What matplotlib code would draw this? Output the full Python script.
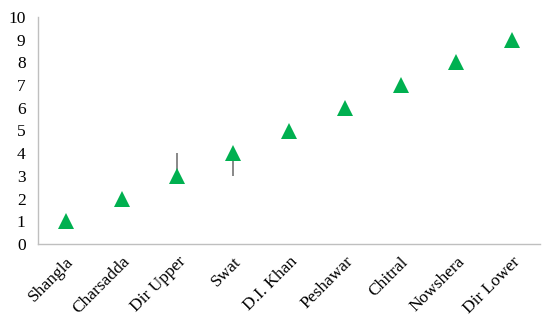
import matplotlib
matplotlib.use("Agg")
import matplotlib.pyplot as plt
import numpy as np

districts = ["Shangla", "Charsadda", "Dir Upper", "Swat", "D.I. Khan",
             "Peshawar", "Chitral", "Nowshera", "Dir Lower"]
ranks = [1, 2, 3, 4, 5, 6, 7, 8, 9]
err_lower = [0, 0, 0, 1, 0, 0, 0, 0, 0]
err_upper = [0, 0, 1, 0, 0, 0, 0, 0, 0]
yticks = [0, 1, 2, 3, 4, 5, 6, 7, 8, 9, 10]

plt.rcParams['font.family'] = ['Liberation Serif', 'DejaVu Serif']

fig = plt.figure(figsize=(5.5, 3.29), dpi=100)
ax = fig.add_axes([38/550, 1-244/329, (540-38)/550, (244-17)/329])

x = np.arange(len(districts))
ax.errorbar(x, ranks, yerr=[err_lower, err_upper], fmt='none',
            ecolor='#7f7f7f', elinewidth=1.3, capsize=0, zorder=1)
ax.plot(x, ranks, linestyle='none', marker='^', markersize=11,
        color='#00B050', markeredgewidth=0, zorder=2)

ax.set_xlim(-0.5, len(districts) - 0.5)
ax.set_ylim(0, 10)
ax.set_yticks(yticks)
ax.set_yticklabels([str(v) for v in yticks], fontsize=12.5)
ax.set_xticks(x)
ax.set_xticklabels(districts, rotation=45, ha='right', rotation_mode='anchor', fontsize=12.5)
ax.tick_params(axis='y', length=0, pad=9)
ax.tick_params(axis='x', length=0, pad=7)
for s in ['top', 'right']:
    ax.spines[s].set_visible(False)
for s in ['left', 'bottom']:
    ax.spines[s].set_color('#BFBFBF')
    ax.spines[s].set_linewidth(1)

fig.savefig("out.png", dpi=100)
